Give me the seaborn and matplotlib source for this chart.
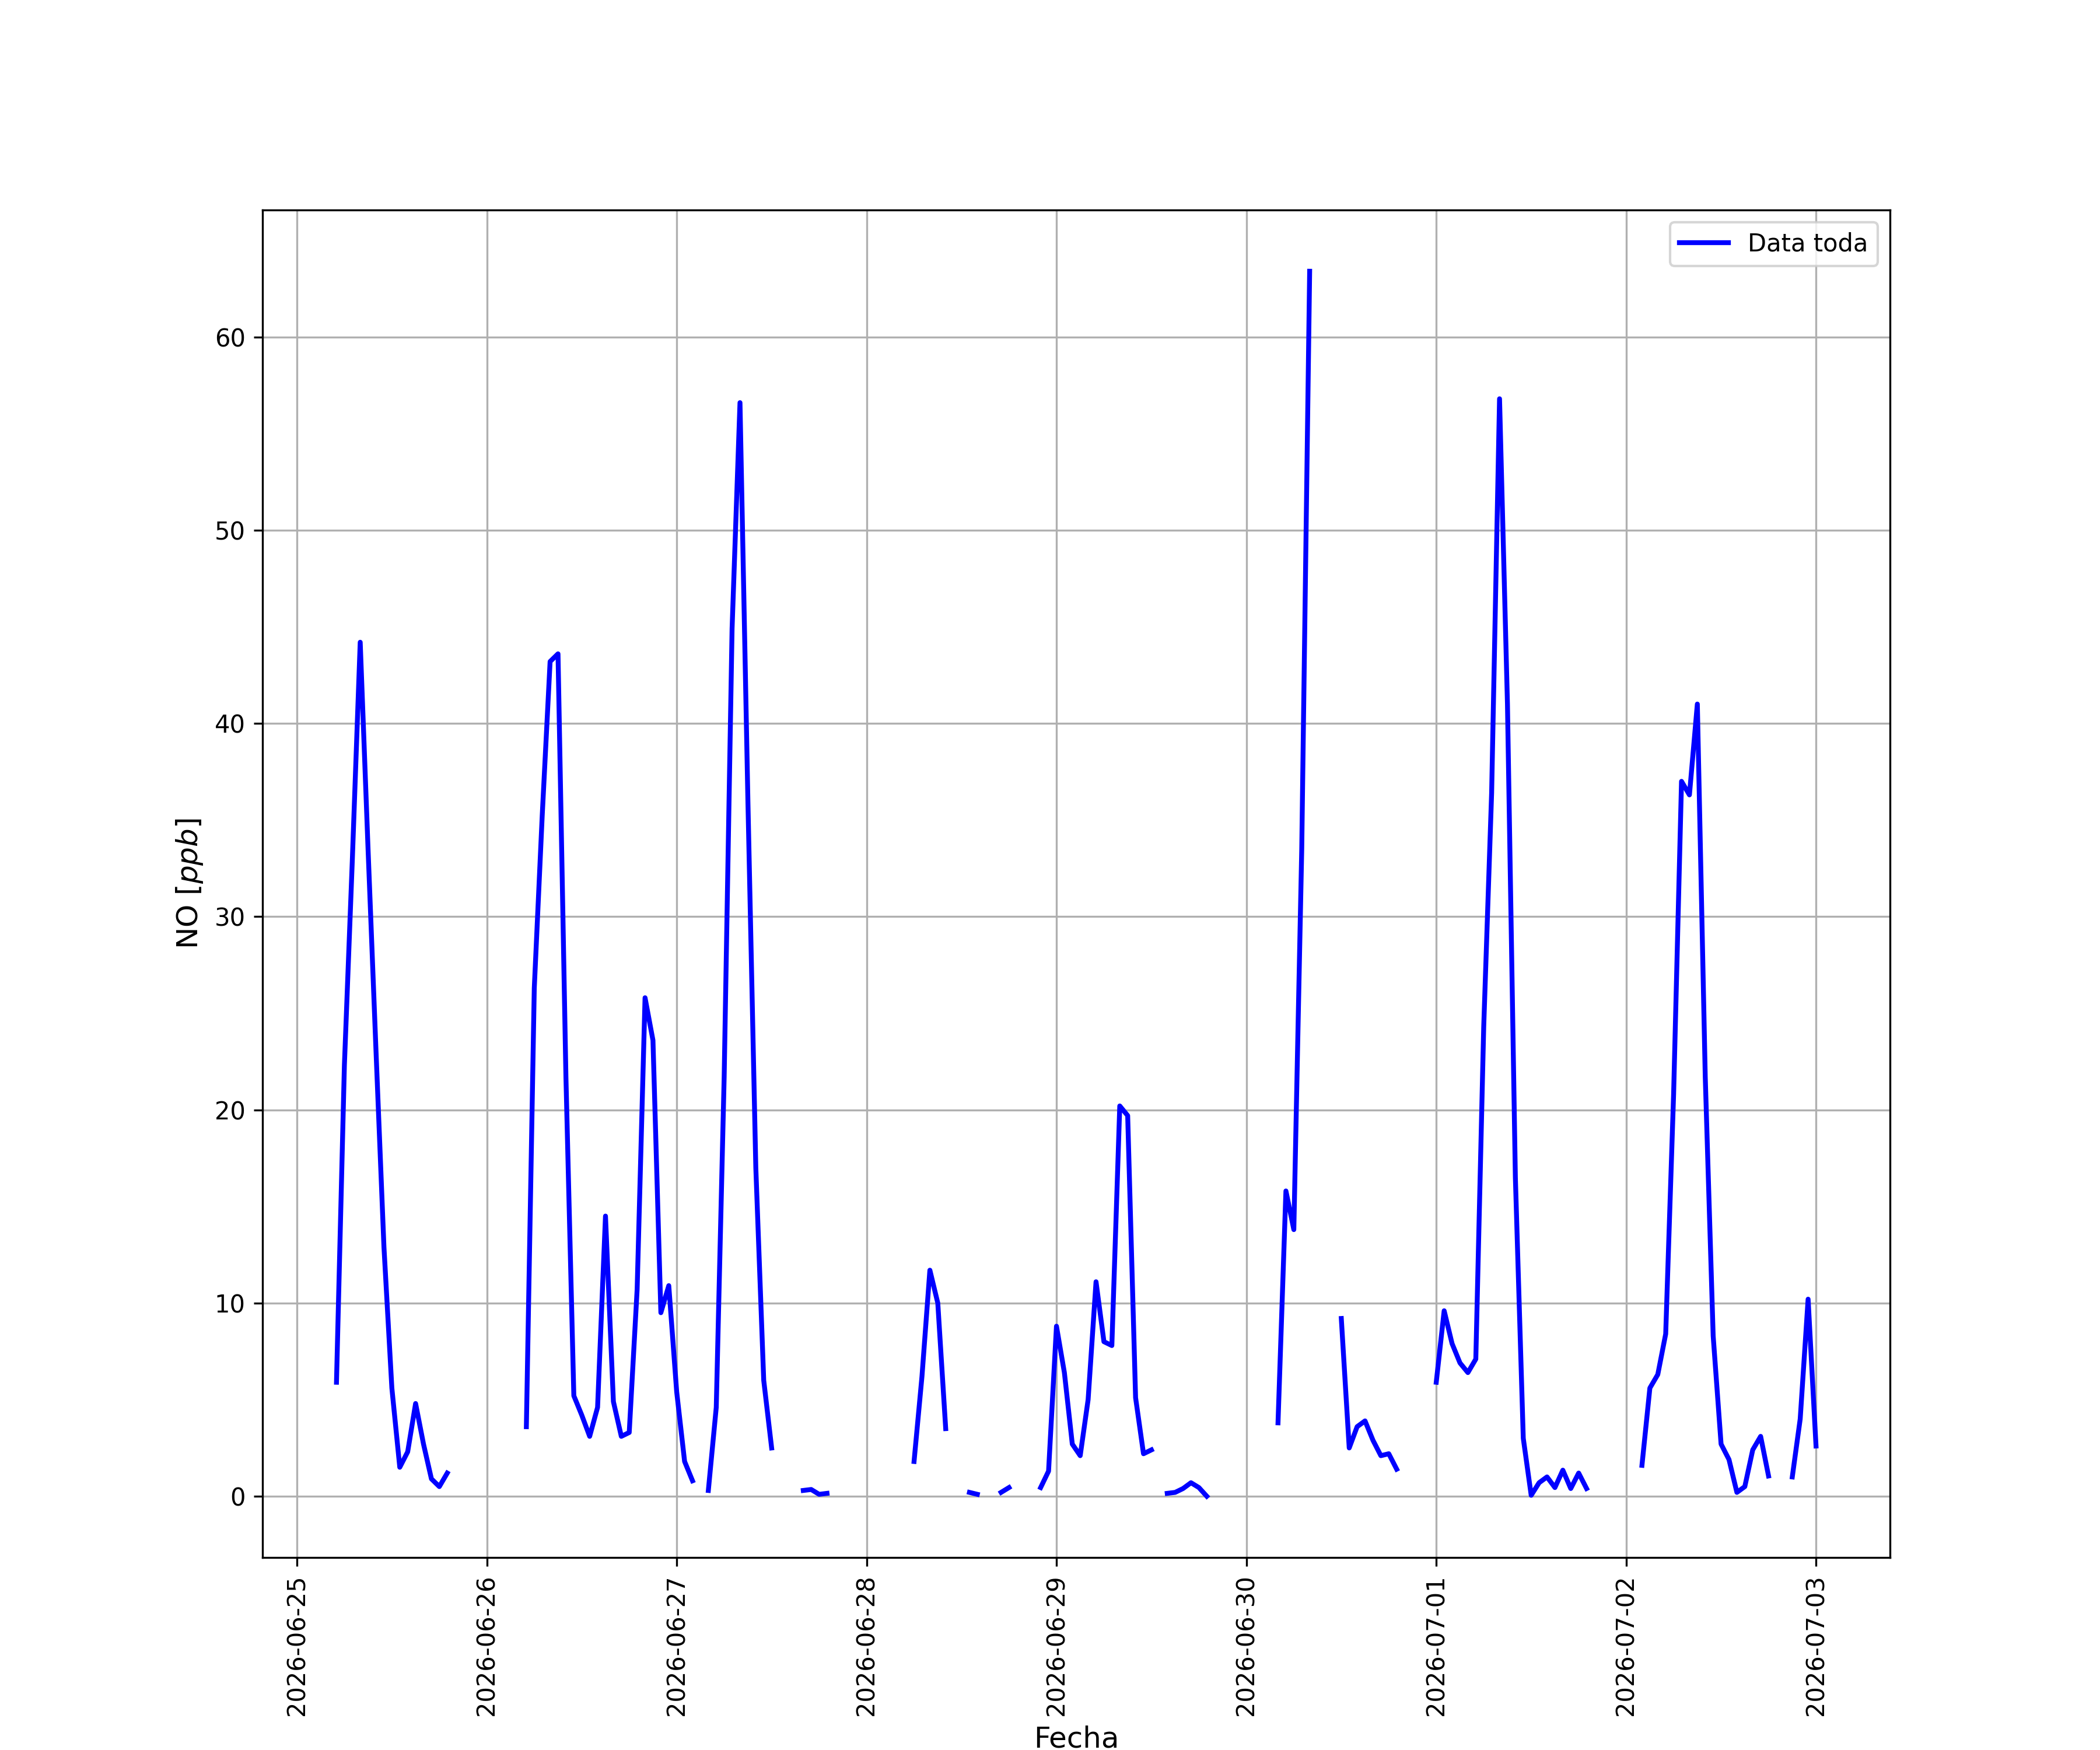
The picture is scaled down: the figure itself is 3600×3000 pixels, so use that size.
import numpy as np
import pandas as pd
import matplotlib
matplotlib.use('Agg')
import matplotlib.pyplot as plt
import seaborn as sns

nan = np.nan

# hourly NO values [ppb], one list per day (hours 0..23), nan = no data
no_0625 = [nan, nan, nan, nan, nan, 5.9, 22.3, 32.9, 44.2, 33.4, 23.0, 12.9,
           5.6, 1.5, 2.3, 4.8, 2.7, 0.9, 0.5, 1.2, nan, nan, nan, nan]
no_0626 = [nan, nan, nan, nan, nan, 3.6, 26.3, 35.2, 43.2, 43.6, 21.7, 5.2,
           4.2, 3.1, 4.6, 14.5, 4.9, 3.1, 3.3, 10.7, 25.8, 23.6, 9.5, 10.9]
no_0627 = [5.4, 1.8, 0.8, nan, 0.3, 4.6, 21.7, 44.9, 56.6, 36.0, 17.0, 6.0,
           2.5, nan, nan, nan, 0.3, 0.35, 0.1, 0.15, nan, nan, nan, nan]
no_0628 = [nan, nan, nan, nan, nan, nan, 1.8, 6.2, 11.7, 10.0, 3.5, nan,
           nan, 0.2, 0.1, nan, nan, 0.2, 0.45, nan, nan, nan, 0.45, 1.3]
no_0629 = [8.8, 6.4, 2.7, 2.1, 5.0, 11.1, 8.0, 7.8, 20.2, 19.7, 5.1, 2.2,
           2.4, nan, 0.15, 0.2, 0.4, 0.7, 0.45, 0.0, nan, nan, nan, nan]
no_0630 = [nan, nan, nan, nan, 3.8, 15.8, 13.8, 33.5, 63.4, nan, nan, nan,
           9.2, 2.5, 3.6, 3.9, 2.9, 2.1, 2.2, 1.4, nan, nan, nan, nan]
no_0701 = [5.9, 9.6, 7.9, 6.9, 6.4, 7.1, 24.3, 36.4, 56.8, 41.0, 16.5, 3.0,
           0.05, 0.7, 1.0, 0.45, 1.35, 0.4, 1.2, 0.4, nan, nan, nan, nan]
no_0702 = [nan, nan, 1.6, 5.6, 6.3, 8.4, 20.8, 37.0, 36.3, 41.0, 21.7, 8.3,
           2.7, 1.9, 0.2, 0.5, 2.4, 3.1, 1.05, nan, nan, 1.0, 4.0, 10.2]
no_0703 = [2.6]

no_values = (no_0625 + no_0626 + no_0627 + no_0628 + no_0629 + no_0630
             + no_0701 + no_0702 + no_0703)
fechas = pd.date_range('2026-06-25 00:00', periods=len(no_values), freq='h')

df = pd.DataFrame({'Fecha': fechas, 'NO': no_values})
# each run of valid data gets its own unit so the gaps stay visible
df['tramo'] = df['NO'].isna().cumsum()
df = df.dropna(subset=['NO'])

fig, ax = plt.subplots(figsize=(12, 10))
sns.lineplot(data=df, x='Fecha', y='NO', units='tramo', estimator=None,
             color='blue', linewidth=2, label='Data toda', ax=ax)

handles, labels = ax.get_legend_handles_labels()
ax.legend(handles[:1], labels[:1], loc='upper right')
ax.set_xlabel('Fecha', fontsize=12)
ax.set_ylabel('NO [$ppb$]', fontsize=12)
ax.grid(True)
plt.xticks(rotation=90)
fig.savefig('out.png', dpi=300)
plt.close(fig)
